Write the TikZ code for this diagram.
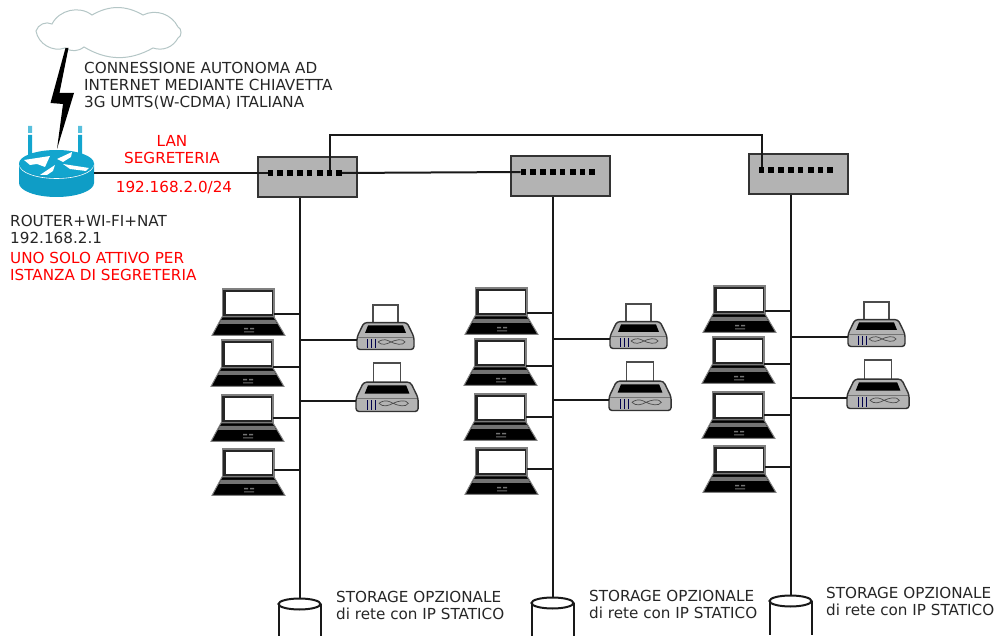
\documentclass[tikz,border=0pt]{standalone}
\usepackage{fontspec}
\setmainfont{DejaVu Sans}
\usepackage{tikz}
\usetikzlibrary{positioning}
\definecolor{routerblue}{HTML}{12A5CE}
\definecolor{routerdark}{HTML}{0F9DC6}
\definecolor{boxgray}{HTML}{B3B3B3}
\definecolor{linegray}{HTML}{333333}
\definecolor{cloudline}{HTML}{B4C6C6}
\begin{document}
\begin{tikzpicture}[
  x=1pt, y=-1pt,
  font=\fontsize{15.2pt}{17pt}\selectfont,
  label/.style={anchor=west, align=left, inner sep=0pt, text=black!85},
  redlabel/.style={align=center, inner sep=0pt, text=red},
  switchbox/.style={draw=linegray, fill=boxgray, line width=1.5pt, minimum width=99pt,
                    minimum height=40pt, inner sep=0pt},
  port/.style={fill=black, minimum size=5.5pt, inner sep=0pt},
  wire/.style={line width=2pt, draw=black!90},
  laptop/.pic={
    \draw[draw=black!50, fill=black!85, line width=1.2pt] (10.5,-1) rectangle (62,27);
    \fill[white] (14,2.5) rectangle (60,24);
    \draw[draw=black!50, fill=black, line width=1pt] (10,27) -- (62,27) -- (73,45.5) -- (0,45.5) -- cycle;
    \fill[black!55] (9,30) -- (63,30) -- (65,34) -- (7,34) -- cycle;
    \fill[black!55] (32,38) rectangle (36,39.5) (38,38) rectangle (42,39.5) (32,41.5) rectangle (42,42.5);
    \coordinate (-side) at (62,14);
  },
  printer/.pic={
    \draw[draw=black!70, fill=white, line width=1.3pt] (16,0) rectangle (41,21);
    \draw[draw=black!80, fill=boxgray, line width=1.4pt, rounded corners=3pt]
      (7,17.6) -- (50,17.6) -- (57,32) -- (57,44.5) -- (0,44.5) -- (0,32) -- cycle;
    \fill[black] (11,20.5) -- (46,20.5) -- (49,28) -- (8,28) -- cycle;
    \draw[black!55, line width=.6pt] (1,32) -- (56,32);
    \draw[blue!30!black, line width=.6pt] (10,34) -- (10,43) (14,34) -- (14,43) (18,34) -- (18,43);
    \draw[black!70, line width=.7pt] (21,37) .. controls (27,33) and (30,35) .. (34,37)
      .. controls (38,39) and (46,41) .. (48,37) .. controls (46,33) and (38,35) .. (34,37)
      .. controls (30,39) and (25,41) .. (21,37);
    \coordinate (-side) at (0,35.3);
  },
  storage/.pic={
    \draw[wire] (-21,6) -- (-21,40) (21,6) -- (21,40);
    \draw[wire, fill=white] (0,6) ellipse (21 and 5.5);
    \coordinate (-top) at (0,0);
  },
]
\useasboundingbox (0,0) rectangle (997,636);

\draw[cloudline, line width=1pt, fill=white]
  (36,31) to[bend left=50] (52,24) to[bend left=50] (92,15) to[bend left=30] (143,15)
  to[bend left=45] (178,27) to[bend left=70] (178,38) to[bend left=40] (153,48)
  to[bend left=30] (84,47) to[bend left=35] (65,48) to[bend left=50] cycle;
\fill[black] (65.5,48) -- (50.5,103) -- (63,104) -- (57,149) -- (74,93) -- (59.5,93) -- (68.5,48) -- cycle;

% router
\fill[routerblue] (28,135) rectangle (32,155) (78,135) rectangle (82,155);
\fill[routerblue!70] (28,126) rectangle (32,133) (78,126) rectangle (82,133);
\fill[routerdark] (19,163.5) -- (19,183) arc[start angle=180, end angle=0, x radius=37.5, y radius=14]
  -- (94,163.5) -- cycle;
\draw[white, line width=.6pt] (19.5,165) arc[start angle=180, end angle=0, x radius=37, y radius=13.5];
\fill[routerblue] (56.5,163.5) ellipse (37.5 and 13.5);
\fill[white] (24,160) -- (50,156) -- (45,167) -- (37,164) -- (30,165) -- cycle
  (57,159) -- (72,152) -- (71,157) -- (63,162) -- cycle
  (63,164) -- (89,168) -- (86,171) -- (70,169) -- cycle
  (40,175) -- (55,165) -- (53,171) -- (47,175) -- cycle;
\coordinate (router) at (94,173);

\foreach \col/\dx/\dy/\tx/\ty in {A/0/0/0/0, B/253/-1/253/-1, C/491/-3/490/-4}{
  \begin{scope}[shift={(\dx,\dy)}]
    \node[switchbox] (sw\col) at (307.5,177) {};
    \foreach \i/\px in {1/270.5,2/280,3/290,4/300,5/309.5,6/320,7/329.5,8/339}
      \node[port] (port\col\i) at (\px,173) {};
    \coordinate (busend\col) at (299.5,598);
    \draw[wire] (sw\col.south -| busend\col) -- (busend\col);
    \foreach \i/\lx/\ly/\lt in {1/212/290/314, 2/211/341/367, 3/211/396/418, 4/212/450/470}{
      \pic (lap\col\i) at (\lx,\ly) {laptop};
      \coordinate (tap) at (299.5,\lt);
      \draw[wire] (lap\col\i-side |- tap) -- (tap);
    }
    \pic (prn\col1) at (357,305) {printer};
    \pic[scale=1.09] (prn\col2) at (356,363) {printer};
    \draw[wire] (prn\col1-side) -- (prn\col1-side -| busend\col);
    \draw[wire] (prn\col2-side) -- (prn\col2-side -| busend\col);
    \pic (disk\col) at (299.5,598) {storage};
  \end{scope}
  \begin{scope}[shift={(\tx,\ty)}]
    \node[label] (note\col) at (336,605.5) {STORAGE OPZIONALE\\di rete con IP STATICO};
  \end{scope}
}

\node[label] (connessione) at (84,85.5) {CONNESSIONE AUTONOMA AD\\INTERNET MEDIANTE CHIAVETTA\\3G UMTS(W-CDMA) ITALIANA};
\node[redlabel] (lan) at (172,149.5) {LAN\\SEGRETERIA};
\node[redlabel] (subnet) at (174,188) {192.168.2.0/24};
\node[label] (routerinfo) at (10,229) {ROUTER+WI-FI+NAT\\192.168.2.1};
\node[label, text=red] (solo) at (10,266.5) {UNO SOLO ATTIVO PER\\ISTANZA DI SEGRETERIA};

\coordinate (tie) at (329.5,135);
\draw[wire] (router) -- (portA1);
\draw[wire] (portA8) -- (portB1);
\draw[wire] (portA7.north) -- (portA7.north |- tie) -| (portC1.north);
\end{tikzpicture}
\end{document}
